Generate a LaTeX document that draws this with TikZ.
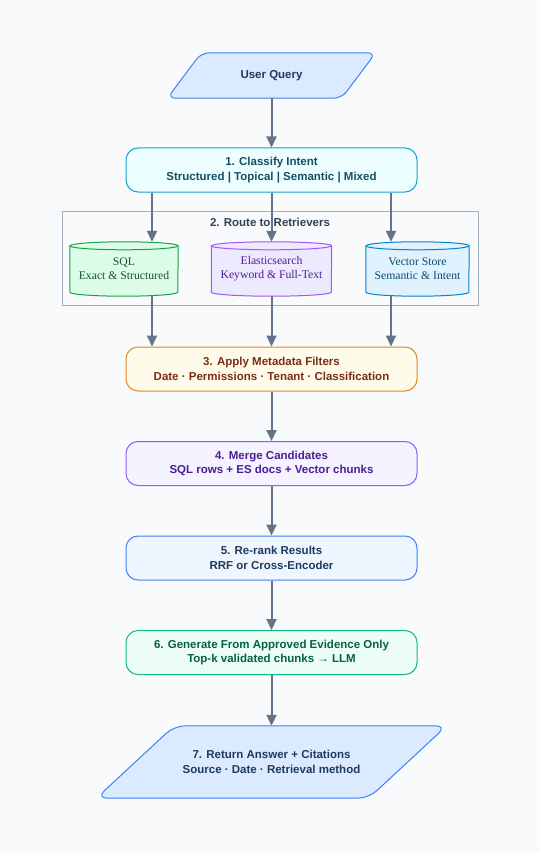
\documentclass[tikz,border=0pt]{standalone}
\usepackage{fontspec}
\setmainfont{Liberation Sans}
\newfontfamily\cylfont{Liberation Serif}
\usetikzlibrary{arrows.meta,backgrounds}
\definecolor{bgc}{HTML}{F8FAFC}
\definecolor{arrowc}{HTML}{64748B}
\definecolor{qfill}{HTML}{DBEAFE}
\definecolor{qdraw}{HTML}{3B82F6}
\definecolor{qtext}{HTML}{1E3A5F}
\definecolor{cfill}{HTML}{ECFEFF}
\definecolor{cdraw}{HTML}{0EA5C6}
\definecolor{ctext}{HTML}{164E63}
\definecolor{grpc}{HTML}{A0AEC0}
\definecolor{grptext}{HTML}{334155}
\definecolor{ofill}{HTML}{FFFBEB}
\definecolor{odraw}{HTML}{E08A1E}
\definecolor{otext}{HTML}{7C2D12}
\definecolor{pfill}{HTML}{F5F3FF}
\definecolor{pdraw}{HTML}{8B5CF6}
\definecolor{ptext}{HTML}{4C1D95}
\definecolor{bfill}{HTML}{EFF6FF}
\definecolor{bdraw}{HTML}{3B82F6}
\definecolor{btext}{HTML}{1E3A5F}
\definecolor{gfill}{HTML}{ECFDF5}
\definecolor{gdraw}{HTML}{10B981}
\definecolor{gtext}{HTML}{065F46}
\definecolor{sqlfill}{HTML}{DCFCE7}
\definecolor{sqldraw}{HTML}{16A34A}
\definecolor{sqltext}{HTML}{14532D}
\definecolor{esfill}{HTML}{EDE9FE}
\definecolor{esdraw}{HTML}{A855F7}
\definecolor{estext}{HTML}{4C1D95}
\definecolor{vfill}{HTML}{E0F2FE}
\definecolor{vdraw}{HTML}{0284C7}
\definecolor{vtext}{HTML}{0C4A6E}
\begin{document}
\begin{tikzpicture}[x=1pt,y=-1pt,
  stepbox/.style={rectangle, rounded corners=12pt, minimum width=291pt, minimum height=44pt,
    line width=1pt, align=center, inner sep=0pt,
    font=\fontsize{11.5}{14.5}\selectfont\bfseries},
  parnode/.style={rectangle, draw=none, align=center, inner sep=0pt,
    font=\fontsize{11.5}{14.5}\selectfont\bfseries, text=qtext},
  cylnode/.style={rectangle, draw=none, align=center, inner sep=0pt, minimum height=54pt,
    font=\fontsize{11.7}{14}\selectfont\cylfont},
  parshape/.style={fill=qfill, draw=qdraw, line width=1pt},
  cylshape/.style={line width=1pt},
  arr/.style={draw=arrowc, line width=2pt, -{Triangle[length=11pt,width=10pt]}}
]
\useasboundingbox (0,0) rectangle (540,853);

% nodes
\node[parnode, minimum width=174pt, minimum height=45pt] (uq) at (271.5,75.5) {User Query};
\node[stepbox, fill=cfill, draw=cdraw, text=ctext] (c1) at (271.5,170)
  {1. Classify Intent\\Structured | Topical | Semantic | Mixed};
\node[rectangle, draw=grpc, line width=1pt, minimum width=416pt, minimum height=94pt] (grp) at (270,258) {};
\node[font=\fontsize{11.5}{14}\selectfont\bfseries, text=grptext, inner sep=0pt] (grpt) at (270,222.5) {2. Route to Retrievers};
\node[cylnode, minimum width=108pt, text=sqltext] (sql) at (124,269) {SQL\\Exact \& Structured};
\node[cylnode, minimum width=120pt, text=estext] (es) at (271.5,269) {Elasticsearch\\Keyword \& Full-Text};
\node[cylnode, minimum width=103pt, text=vtext] (vs) at (417.5,269) {Vector Store\\Semantic \& Intent};
\node[stepbox, fill=ofill, draw=odraw, text=otext] (s3) at (271.5,369)
  {3. Apply Metadata Filters\\Date · Permissions · Tenant · Classification};
\node[stepbox, fill=pfill, draw=pdraw, text=ptext] (s4) at (271.5,463.5)
  {4. Merge Candidates\\SQL rows + ES docs + Vector chunks};
\node[stepbox, fill=bfill, draw=bdraw, text=btext] (s5) at (271.5,558)
  {5. Re-rank Results\\RRF or Cross-Encoder};
\node[stepbox, fill=gfill, draw=gdraw, text=gtext] (s6) at (271.5,652.5)
  {6. Generate From Approved Evidence Only\\Top-k validated chunks → LLM};
\node[parnode, minimum width=272pt, minimum height=72pt] (fin) at (271.5,762)
  {7. Return Answer + Citations\\Source · Date · Retrieval method};

% shapes behind the texts
\begin{pgfonlayer}{background}
\fill[bgc] (0,0) rectangle (540,853);
\draw[parshape, rounded corners=8pt] ([xshift=-17pt]uq.south west) -- ([xshift=-17pt]uq.south east)
  -- ([xshift=17pt]uq.north east) -- ([xshift=17pt]uq.north west) -- cycle;
\draw[parshape, rounded corners=11pt] ([xshift=-39pt]fin.south west) -- ([xshift=-39pt]fin.south east)
  -- ([xshift=39pt]fin.north east) -- ([xshift=39pt]fin.north west) -- cycle;
\foreach \n/\f/\d/\r in {sql/sqlfill/sqldraw/54, es/esfill/esdraw/60, vs/vfill/vdraw/51.5}{
  \draw[cylshape, fill=\f, draw=\d] ([yshift=-4pt]\n.north west) -- ([yshift=4pt]\n.south west)
    arc[start angle=180, end angle=360, x radius=\r pt, y radius=4pt]
    -- ([yshift=-4pt]\n.north east)
    arc[start angle=0, end angle=180, x radius=\r pt, y radius=4pt] -- cycle;
  \draw[cylshape, draw=\d] ([yshift=-4pt]\n.north west)
    arc[start angle=180, end angle=360, x radius=\r pt, y radius=4pt];
}
\end{pgfonlayer}

% connectors
\coordinate (la) at ([xshift=-119.5pt]c1.south);
\coordinate (ra) at ([xshift=119.5pt]c1.south);
\coordinate (lb) at (la |- sql.south);
\coordinate (rb) at (ra |- vs.south);
\draw[arr] (uq.south) -- (c1.north);
\draw[arr] (la) -- (la |- sql.north);
\draw[arr] (c1.south) -- (es.north);
\draw[arr] (ra) -- (ra |- vs.north);
\draw[arr] (lb) -- (lb |- s3.north);
\draw[arr] (es.south) -- (s3.north);
\draw[arr] (rb) -- (rb |- s3.north);
\draw[arr] (s3.south) -- (s4.north);
\draw[arr] (s4.south) -- (s5.north);
\draw[arr] (s5.south) -- (s6.north);
\draw[arr] (s6.south) -- (fin.north);
\end{tikzpicture}
\end{document}
